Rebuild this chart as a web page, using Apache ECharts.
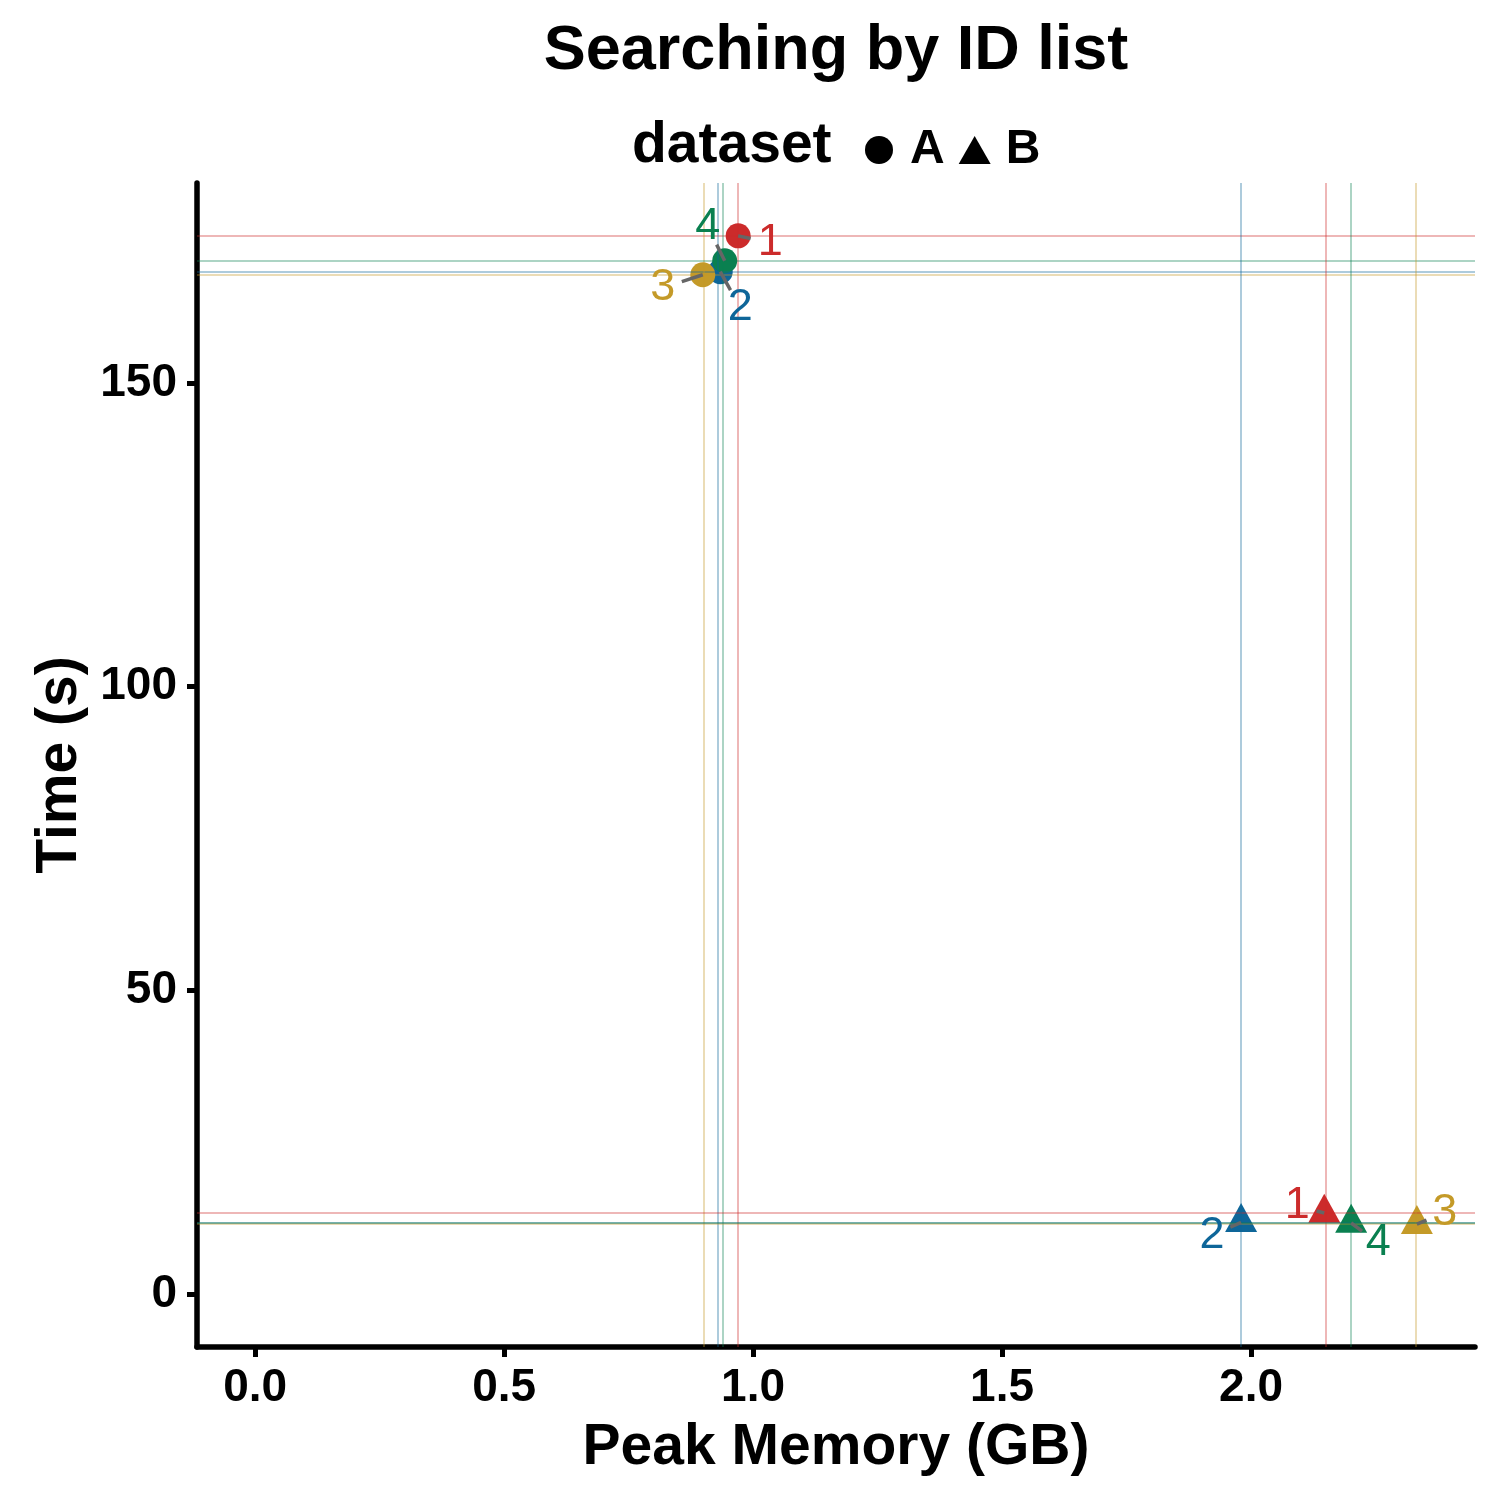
<!DOCTYPE html>
<html lang="en">

<head>
    <meta charset="UTF-8">
    <meta name="viewport" content="width=device-width, initial-scale=1.0">
    <script type="text/javascript" src="https://cdn.jsdelivr.net/npm/echarts@6/dist/echarts.min.js"></script>
    <title>Searching by ID list</title>
    <style>
        html, body { margin: 0; padding: 0; width: 100%; height: 100%; background: #fff; }
    </style>
</head>

<body>
    <div id="container" style="width: 1500px; height: 1500px"></div>
</body>
<script type="text/javascript">
    // run ids and values
    var runs = ['1', '2', '3', '4'];
    var memA = [0.970, 0.934, 0.899, 0.943];   // peak memory (GB), dataset A
    var timeA = [174.2, 168.3, 167.8, 170.1];  // time (s), dataset A
    var memB = [2.147, 1.980, 2.333, 2.201];
    var timeB = [13.35, 11.8, 11.5, 11.7];
    var xTicks = [0, 0.5, 1, 1.5, 2];
    var yTicks = [0, 50, 100, 150];

    // styling
    var runColors = ['#CC2B2B', '#0E6699', '#C49A28', '#0A8050'];
    var FONT = '"Liberation Sans", Arial, sans-serif';
    // label placement (pixel offset of each run label from its point), like ggrepel
    var labelOffA = [[32, 7], [20, 36], [-40, 13], [-17, -34]];
    var labelOffB = [[-27, -7], [-29, 13], [28, -12], [27, 20]];

    var dom = document.getElementById('container');
    var myChart = echarts.init(dom, null, { renderer: 'canvas' });

    function refLines(mem, time) {
        var lines = [];
        mem.forEach(function (m, i) {
            lines.push({ xAxis: m, lineStyle: { color: runColors[i] } });
            lines.push({ yAxis: time[i], lineStyle: { color: runColors[i] } });
        });
        return lines;
    }

    function points(mem, time) {
        return mem.map(function (m, i) {
            return { value: [m, time[i]], itemStyle: { color: runColors[i] } };
        });
    }

    function labelSeries(mem, time, offs) {
        return {
            type: 'custom',
            silent: true,
            z: 5,
            clip: false,
            encode: { x: 0, y: 1 },
            data: mem.map(function (m, i) { return [m, time[i], i]; }),
            renderItem: function (params, api) {
                var i = api.value(2);
                var p = api.coord([api.value(0), api.value(1)]);
                var off = offs[i];
                var len = Math.sqrt(off[0] * off[0] + off[1] * off[1]);
                var k = Math.max(0, len - 20) / len;
                return {
                    type: 'group',
                    children: [{
                        type: 'line',
                        shape: { x1: p[0], y1: p[1], x2: p[0] + off[0] * k, y2: p[1] + off[1] * k },
                        style: { stroke: '#666666', lineWidth: 3.5 }
                    }, {
                        type: 'text',
                        style: {
                            text: runs[i],
                            x: p[0] + off[0],
                            y: p[1] + off[1],
                            fill: runColors[i],
                            fontSize: 45,
                            fontFamily: FONT,
                            align: 'center',
                            verticalAlign: 'middle'
                        }
                    }]
                };
            }
        };
    }

    var markLineBase = {
        silent: true,
        symbol: 'none',
        animation: false,
        label: { show: false },
        emphasis: { disabled: true },
        lineStyle: { type: 'solid', width: 1.5, opacity: 0.45 }
    };

    var option = {
        animation: false,
        backgroundColor: '#fff',
        textStyle: { fontFamily: FONT },
        grid: { left: 197, right: 25, top: 183, bottom: 153, containLabel: false },
        graphic: [{
            type: 'text',
            x: 836,
            y: 52,
            style: {
                text: 'Searching by ID list',
                fontSize: 63,
                fontWeight: 'bold',
                fontFamily: FONT,
                fill: '#000',
                align: 'center',
                verticalAlign: 'middle'
            }
        }, {
            type: 'text',
            x: 632,
            y: 146,
            style: {
                text: 'dataset',
                fontSize: 57,
                fontWeight: 'bold',
                fontFamily: FONT,
                fill: '#000',
                align: 'left',
                verticalAlign: 'middle'
            }
        }],
        legend: {
            left: 860,
            top: 121,
            itemWidth: 32,
            itemHeight: 28,
            itemGap: 14,
            selectedMode: false,
            textStyle: {
                fontSize: 48,
                fontWeight: 'bold',
                fontFamily: FONT,
                color: '#000',
                lineHeight: 48,
                padding: [0, 0, 0, 10]
            },
            data: [
                { name: 'A', icon: 'circle', itemStyle: { color: '#000' } },
                { name: 'B', icon: 'triangle', itemStyle: { color: '#000' } }
            ]
        },
        xAxis: {
            type: 'value',
            min: -0.1167,
            max: 2.4497,
            name: 'Peak Memory (GB)',
            nameLocation: 'middle',
            nameGap: 73,
            nameTextStyle: { fontSize: 57, fontWeight: 'bold', color: '#000', fontFamily: FONT },
            splitLine: { show: false },
            axisLine: { show: true, onZero: false, lineStyle: { color: '#000', width: 5.5 } },
            axisTick: { show: true, length: 10, customValues: xTicks, lineStyle: { color: '#000', width: 5 } },
            axisLabel: {
                customValues: xTicks,
                margin: 18,
                fontSize: 46,
                fontWeight: 'bold',
                color: '#000',
                fontFamily: FONT,
                formatter: function (v) { return v.toFixed(1); }
            }
        },
        yAxis: {
            type: 'value',
            min: -8.71,
            max: 182.9,
            name: 'Time (s)',
            nameLocation: 'middle',
            nameGap: 108,
            nameTextStyle: { fontSize: 57, fontWeight: 'bold', color: '#000', fontFamily: FONT },
            splitLine: { show: false },
            axisLine: { show: true, onZero: false, lineStyle: { color: '#000', width: 5.5 } },
            axisTick: { show: true, length: 10, customValues: yTicks, lineStyle: { color: '#000', width: 5 } },
            axisLabel: {
                customValues: yTicks,
                margin: 20,
                fontSize: 46,
                fontWeight: 'bold',
                color: '#000',
                fontFamily: FONT
            }
        },
        series: [{
            name: 'refA',
            type: 'scatter',
            z: 1,
            data: [],
            markLine: Object.assign({ data: refLines(memA, timeA) }, markLineBase)
        }, {
            name: 'refB',
            type: 'scatter',
            z: 1,
            data: [],
            markLine: Object.assign({ data: refLines(memB, timeB) }, markLineBase)
        }, {
            name: 'A',
            type: 'scatter',
            z: 3,
            symbol: 'circle',
            symbolSize: 25,
            itemStyle: { color: '#000', opacity: 1 },
            emphasis: { disabled: true },
            data: points(memA, timeA)
        }, {
            name: 'B',
            type: 'scatter',
            z: 3,
            symbol: 'triangle',
            symbolSize: [32, 29],
            symbolOffset: [0, -4.8],
            itemStyle: { color: '#000', opacity: 1 },
            emphasis: { disabled: true },
            data: points(memB, timeB)
        },
        labelSeries(memA, timeA, labelOffA),
        labelSeries(memB, timeB, labelOffB)
        ]
    };

    myChart.setOption(option);
    window.addEventListener('resize', myChart.resize);
</script>

</html>
